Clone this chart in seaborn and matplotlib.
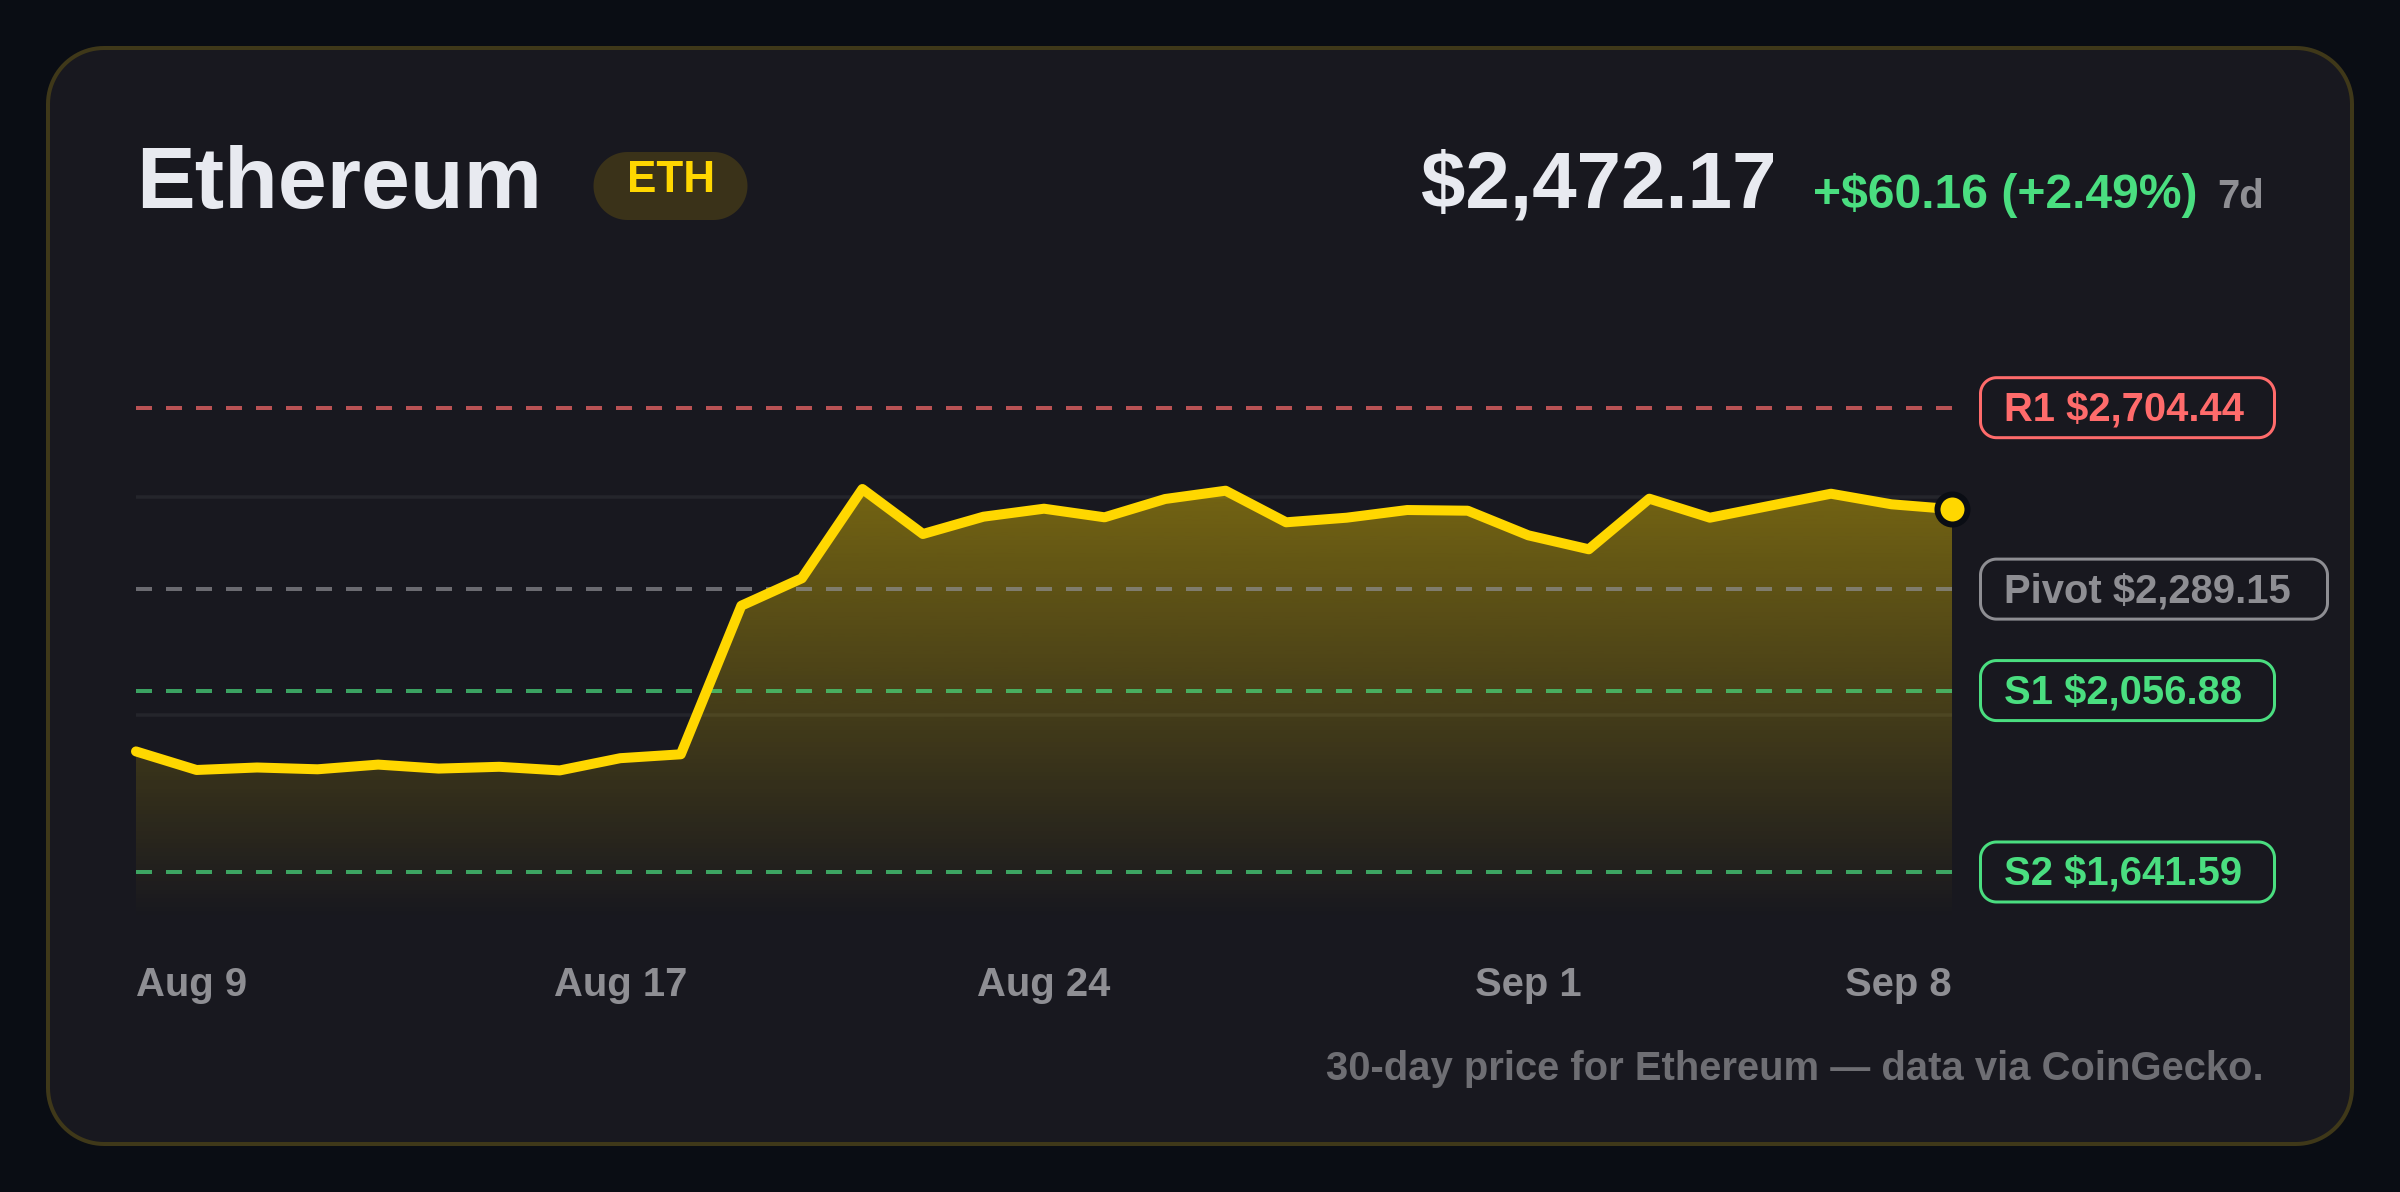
import numpy as np
import matplotlib
matplotlib.use("Agg")
import matplotlib.pyplot as plt
from matplotlib.patches import Polygon
import seaborn as sns

# values
day = list(range(31))
price = [1917.6, 1875.1, 1880.8, 1876.7, 1887.4, 1878.3, 1882.4, 1874.1, 1902.1, 1911.0,
         2251.2, 2313.9, 2518.3, 2415.3, 2454.9, 2473.2, 2453.5, 2495.4, 2514.4, 2442.1,
         2452.6, 2470.2, 2468.6, 2412.3, 2380.3, 2496.1, 2452.6, 2480.1, 2507.5, 2483.3,
         2472.17]
tick_days = [0, 8, 15, 23, 30]
tick_labels = ["Aug 9", "Aug 17", "Aug 24", "Sep 1", "Sep 8"]
grid_levels = [2000, 2500]
level_names = ["R1", "Pivot", "S1", "S2"]
level_values = [2704.44, 2289.15, 2056.88, 1641.59]
level_colors = ["#ff6b6b", "#8e8e93", "#4ade80", "#4ade80"]
pill_widths = [294, 347, 294, 294]

PAGE = "#0a0d14"
CARD = "#18181f"
GOLD = "#ffd700"
PX = 0.36  # one pixel in points at dpi 200

sns.set_theme(style="dark")
plt.rcParams['font.family'] = ['Liberation Sans', 'DejaVu Sans']
plt.rcParams['font.weight'] = 'bold'

W, H = 2400, 1192
fig = plt.figure(figsize=(W / 200, H / 200), dpi=200, facecolor=PAGE)


def rounded_box(a, x, y, w, h, r, **kw):
    # true circular corners, boxstyle round comes out too tight
    pts = []
    corners = [(x + w - r, y + r, -90), (x + w - r, y + h - r, 0), (x + r, y + h - r, 90), (x + r, y + r, 180)]
    for cx, cy, start in corners:
        t = np.radians(np.linspace(start, start + 90, 24))
        pts.append(np.column_stack([cx + r * np.cos(t), cy + r * np.sin(t)]))
    a.add_patch(Polygon(np.vstack(pts), closed=True, joinstyle="round", **kw))


# pixel space layer for the card and the header text
bg = fig.add_axes([0, 0, 1, 1], zorder=0)
bg.set_xlim(0, W)
bg.set_ylim(H, 0)
bg.axis("off")
rounded_box(bg, 48, 48, 2304, 1096, 56, fc=CARD, ec="#3f3819", lw=4 * PX)

# plot area, x 136-1952 and y 360-920 in pixels
ax = fig.add_axes([136 / W, 1 - 920 / H, (1952 - 136) / W, 560 / H], zorder=1)
ax.patch.set_alpha(0)

for g in grid_levels:
    ax.axhline(g, color="#24252b", lw=3.5 * PX, zorder=1)

# gradient fill under the line
poly = ax.fill_between(day, price, 1531.7, color="none", lw=0)
grad = np.zeros((256, 1, 4))
grad[:, 0, :3] = matplotlib.colors.to_rgb(GOLD)
grad[:, 0, 3] = np.linspace(0.40, 0, 256)
im = ax.imshow(grad, extent=(0, 30, 1531.7, max(price)), aspect="auto", origin="upper",
               interpolation="bilinear", zorder=2)
im.set_clip_path(poly.get_paths()[0], transform=ax.transData)
ax.set_xlim(0, 30)
ax.set_ylim(1531.7, 2813.6)

lw_dash = 4 * PX
for name, val, col in zip(level_names, level_values, level_colors):
    ax.plot([0, 30], [val, val], color=col, alpha=0.7, lw=lw_dash, zorder=3,
            dashes=(16 / 4, 14 / 4), dash_capstyle="butt")

sns.lineplot(x=day, y=price, ax=ax, color=GOLD, linewidth=10 * PX, zorder=4, errorbar=None)
price_line = ax.lines[-1]
price_line.set_linewidth(10 * PX)
price_line.set_solid_joinstyle("round")
price_line.set_solid_capstyle("round")
price_line.set_clip_on(False)
ax.plot(day[-1], price[-1], "o", ms=30 * PX, mfc=GOLD, mec=PAGE, mew=6 * PX, zorder=5, clip_on=False)

ax.set_xlabel("")
ax.set_ylabel("")
ax.set_yticks([])
ax.grid(False)
for s in ax.spines.values():
    s.set_visible(False)
ax.set_xticks(tick_days)
ax.set_xticklabels(tick_labels, fontsize=40 * PX, color="#8e8e93", fontweight="bold")
ax.tick_params(axis="x", length=0, pad=0)
labels = ax.get_xticklabels()
labels[0].set_ha("left")
labels[-1].set_ha("right")
for t in labels:
    t.set_va("baseline")
    t.set_y(-(995.7 - 920) / 560)

# header
bg.text(136, 208, "Ethereum", fontsize=88 * PX, color="#e8eaf0", ha="left", va="baseline")
rounded_box(bg, 593.5, 152, 154, 68, 34, fc="#3a3219", ec="none")
bg.text(671, 192, "ETH", fontsize=44 * PX, color=GOLD, ha="center", va="baseline")
bg.text(1421.5, 208, "$2,472.17", fontsize=80 * PX, color="#e8eaf0", ha="left", va="baseline")
bg.text(1813, 208, "+$60.16 (+2.49%)", fontsize=48 * PX, color="#4ade80", ha="left", va="baseline")
bg.text(2217, 208, "7d", fontsize=40 * PX, color="#8e8e93", ha="left", va="baseline")

# level pills, placed from the value scale
for name, val, col, w in zip(level_names, level_values, level_colors, pill_widths):
    py = bg.transData.inverted().transform(ax.transData.transform((0, val)))[1]
    rounded_box(bg, 1980.5, py - 30, w, 60, 16, fc=CARD, ec=col, lw=3 * PX)
    bg.text(2004, py + 13, f"{name} ${val:,.2f}", fontsize=40 * PX, color=col, ha="left", va="baseline")

bg.text(2264, 1080, "30-day price for Ethereum \u2014 data via CoinGecko.", fontsize=40 * PX,
        color="#6e6e73", ha="right", va="baseline")

fig.savefig("out.png", dpi=200, facecolor=PAGE)
